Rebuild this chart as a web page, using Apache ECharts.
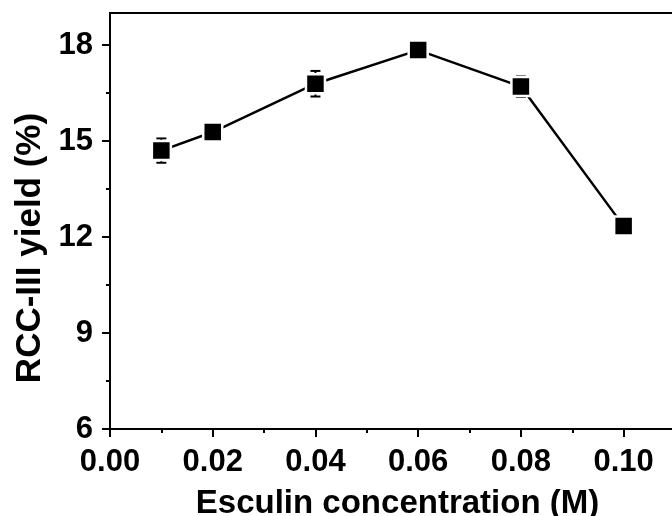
<!DOCTYPE html>
<html>
<head>
<meta charset="utf-8">
<script src="https://cdn.jsdelivr.net/npm/echarts@6/dist/echarts.min.js"></script>
<style>
html,body{margin:0;padding:0;background:#fff;}
#chart{width:672px;height:516px;}
</style>
</head>
<body>
<div id="chart"></div>
<script>
const concentration = [0.01, 0.02, 0.04, 0.06, 0.08, 0.10];
const yieldValues = [14.70, 15.28, 16.79, 17.84, 16.70, 12.34];
const yieldErrors = [0.38, 0.15, 0.40, 0.15, 0.32, 0.12];
const xTicks = [0, 0.02, 0.04, 0.06, 0.08, 0.10];
const xMinorTicks = [0.01, 0.03, 0.05, 0.07, 0.09];
const yTicks = [6, 9, 12, 15, 18];
const yMinorTicks = [7.5, 10.5, 13.5, 16.5];
const xTitle = 'Esculin concentration (M)';
const yTitle = 'RCC-III yield (%)';

const font = 'Liberation Sans, Arial, sans-serif';
const lineData = concentration.map((x, i) => [x, yieldValues[i]]);
const errData = concentration.map((x, i) => [x, yieldValues[i] - yieldErrors[i], yieldValues[i] + yieldErrors[i]]);

const chart = echarts.init(document.getElementById('chart'), null, {renderer: 'canvas'});
chart.setOption({
  backgroundColor: '#fff',
  animation: false,
  grid: {left: 110, top: 13, width: 565, bottom: 87, outerBoundsMode: 'none', containLabel: false,
    show: true, borderColor: '#000', borderWidth: 2, backgroundColor: 'transparent'},
  xAxis: [{
    type: 'value', position: 'bottom', min: 0, max: 0.11,
    name: xTitle, nameLocation: 'middle', nameGap: 58,
    nameTextStyle: {fontFamily: font, fontWeight: 'bold', fontSize: 33, color: '#000', padding: [0, 0, 0, 10]},
    axisLine: {show: true, lineStyle: {color: '#000', width: 2}},
    axisTick: {show: true, inside: false, length: 8, lineStyle: {color: '#000', width: 2}, customValues: xTicks},
    axisLabel: {show: true, margin: 18, fontFamily: font, fontWeight: 'bold', fontSize: 31, color: '#000',
      customValues: xTicks, formatter: v => v.toFixed(2)},
    splitLine: {show: false}
  }, {
    type: 'value', position: 'bottom', min: 0, max: 0.11,
    axisLine: {show: false},
    axisTick: {show: true, inside: false, length: 4, lineStyle: {color: '#000', width: 2}, customValues: xMinorTicks},
    axisLabel: {show: false},
    splitLine: {show: false}
  }],
  yAxis: [{
    type: 'value', position: 'left', min: 6, max: 19,
    name: yTitle, nameLocation: 'middle', nameGap: 62, nameRotate: 90,
    nameTextStyle: {fontFamily: font, fontWeight: 'bold', fontSize: 35, color: '#000', padding: [0, 54, 0, 0]},
    axisLine: {show: true, lineStyle: {color: '#000', width: 2}},
    axisTick: {show: true, inside: false, length: 8, lineStyle: {color: '#000', width: 2}, customValues: yTicks},
    axisLabel: {show: true, margin: 17, fontFamily: font, fontWeight: 'bold', fontSize: 31, color: '#000', customValues: yTicks},
    splitLine: {show: false}
  }, {
    type: 'value', position: 'left', min: 6, max: 19,
    axisLine: {show: false},
    axisTick: {show: true, inside: false, length: 4, lineStyle: {color: '#000', width: 2}, customValues: yMinorTicks},
    axisLabel: {show: false},
    splitLine: {show: false}
  }],
  series: [{
    type: 'custom',
    xAxisIndex: 0, yAxisIndex: 0,
    z: 2,
    data: errData,
    renderItem: function (params, api) {
      const x = api.value(0);
      const lo = api.coord([x, api.value(1)]);
      const hi = api.coord([x, api.value(2)]);
      const hw = 5;
      const st = {stroke: '#000', lineWidth: 2};
      return {type: 'group', children: [
        {type: 'line', shape: {x1: lo[0], y1: lo[1], x2: hi[0], y2: hi[1]}, style: st},
        {type: 'line', shape: {x1: lo[0] - hw, y1: lo[1], x2: lo[0] + hw, y2: lo[1]}, style: st},
        {type: 'line', shape: {x1: hi[0] - hw, y1: hi[1], x2: hi[0] + hw, y2: hi[1]}, style: st}
      ]};
    }
  }, {
    type: 'line',
    xAxisIndex: 0, yAxisIndex: 0,
    z: 3,
    data: lineData,
    symbol: 'rect',
    symbolSize: 19,
    lineStyle: {color: '#000', width: 2.5},
    itemStyle: {color: '#000', borderColor: '#fff', borderWidth: 2.5},
    emphasis: {disabled: true}
  }]
});
</script>
</body>
</html>
